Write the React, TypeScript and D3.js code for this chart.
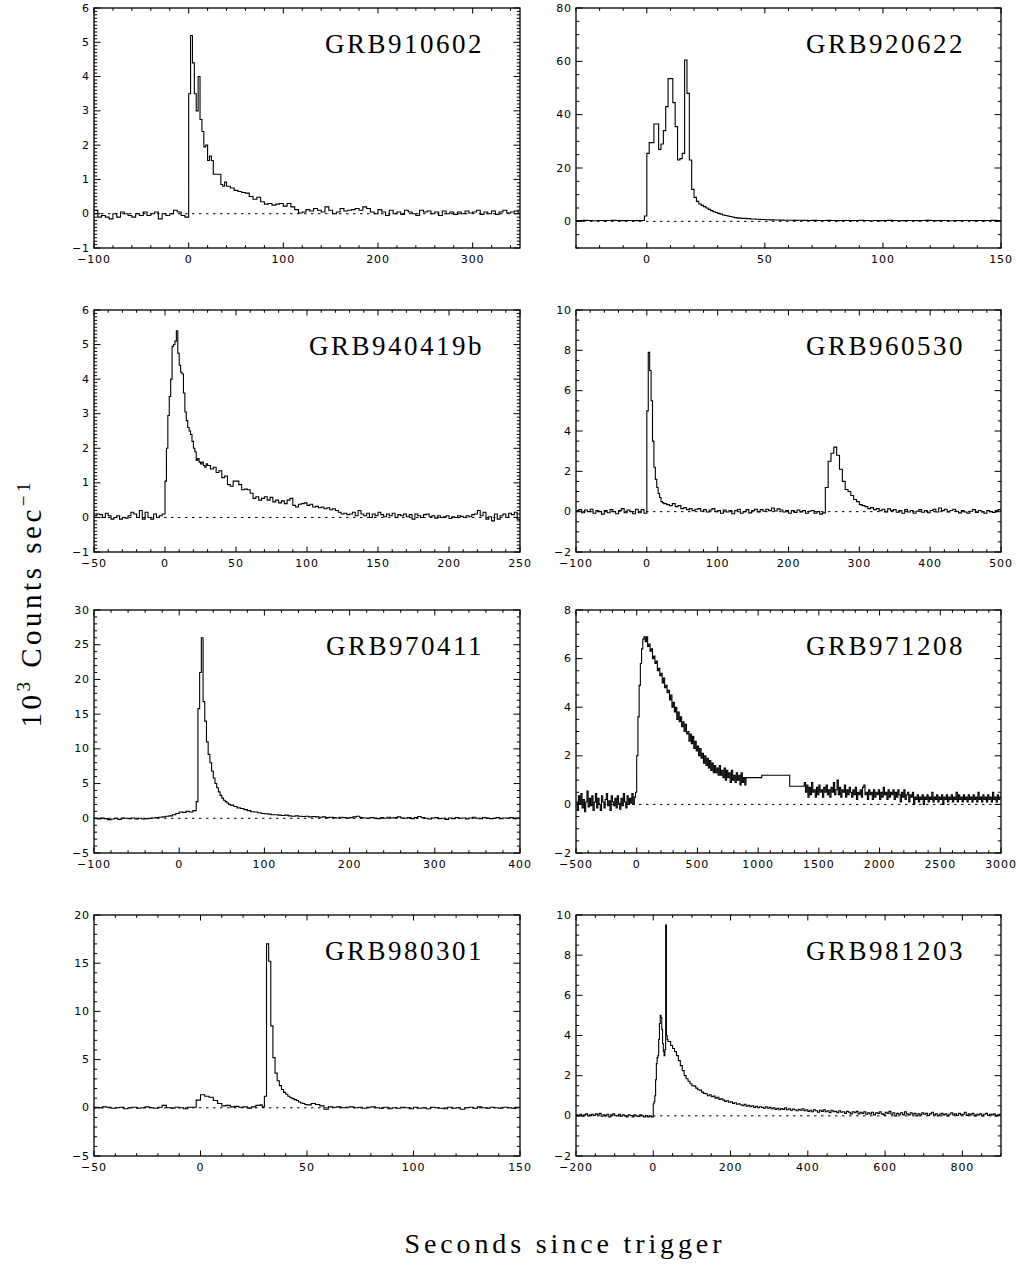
import React from 'react';
import * as d3 from 'd3';

type Seg = { start?: number; width?: number; edges?: number[]; values: number[] };

// ---------------- GRB910602 ----------------
const grb910602Pre = [0.1, -0.1, -0.05, -0.1, -0.15, 0.0, -0.1, 0.05, 0.0, -0.05, -0.1, 0.0, -0.05, 0.05, -0.05, 0.0, 0.05, -0.15, 0.0, -0.05, 0.0, 0.1, 0.05, -0.05, -0.1];
const grb910602Burst = [3.5, 5.2, 4.4, 3.5, 3.0, 4.0, 2.75, 2.4, 1.95, 2.0, 1.55, 1.68, 1.55, 1.15, 1.15, 1.15, 1.15, 0.85, 0.8, 0.92];
const grb910602Tail = [
  0.8, 0.75, 0.68, 0.65, 0.62, 0.6, 0.5, 0.42, 0.48, 0.35,
  0.28, 0.3, 0.25, 0.28, 0.3, 0.22, 0.3, 0.2, 0.12, 0.02,
  0.05, 0.12, 0.08, 0.15, 0.1, 0.05, 0.2, 0.1, 0.0, 0.05,
  0.15, 0.08, 0.1, 0.12, 0.15, 0.1, 0.2, 0.15, 0.05, 0.0,
  0.12, 0.05, -0.05, 0.1, 0.0, 0.05, -0.02, 0.1, 0.05, 0.0,
  -0.05, 0.1, 0.05, 0.08, 0.0, 0.05, -0.05, 0.08, 0.0, 0.05,
  -0.02, 0.05, 0.0, 0.08, 0.02, 0.05, 0.1, -0.02, 0.05, 0.0,
  0.08, -0.02, 0.05, 0.1, 0.02, 0.05, 0.08, 0.0];

// ---------------- GRB920622 ----------------
const grb920622Pre = [0.3, 0.25, 0.35, 0.3, 0.2, 0.3, 0.25, 0.3, 0.35, 0.3, 0.25, 0.3, 0.3, 0.25, 0.3];
const grb920622Burst = [2.0, 25.5, 29.5, 29.5, 36.5, 36.5, 27, 29, 34, 43, 53.5, 53.5, 44.5, 35.5, 23, 23.5, 25.5, 60.5, 48, 23, 12, 9, 7.5, 6.5, 6.0, 5.5, 5.0, 4.5, 4.0, 3.6, 3.3, 3.0, 2.7, 2.4, 2.2, 2.0, 1.8, 1.6, 1.4, 1.3, 1.2];
const grb920622Tail = [
  1.1, 1.0, 0.9, 0.8, 0.7, 0.6, 0.55, 0.5, 0.45, 0.4,
  0.4, 0.35, 0.4, 0.35, 0.3, 0.35, 0.3, 0.3, 0.35, 0.3,
  0.25, 0.3, 0.3, 0.25, 0.3, 0.35, 0.3, 0.2, 0.3, 0.25,
  0.3, 0.35, 0.3, 0.2, 0.25, 0.3, 0.3, 0.25, 0.3, 0.35,
  0.3, 0.25, 0.3, 0.3, 0.2, 0.3, 0.25, 0.3, 0.3, 0.25,
  0.3, 0.25, 0.3, 0.35, 0.3];

// ---------------- GRB940419b ----------------
const grb940419bPre = [0.05, 0.1, 0.08, 0.0, 0.12, 0.05, -0.05, 0.0, 0.05, -0.05, 0.0, -0.02, 0.05, 0.15, 0.1, 0.0, 0.2, -0.05, 0.15, 0.0, -0.05, 0.1, 0.0, 0.05, 0.1];
const grb940419bBurst = [1.05, 2.0, 2.95, 3.5, 4.0, 4.95, 5.0, 5.1, 5.4, 4.75, 4.4, 4.2, 4.15, 3.6, 3.05, 2.8, 2.6, 2.5, 2.4, 2.2, 2.0, 1.9, 1.65, 1.7, 1.6, 1.55, 1.6, 1.5, 1.45, 1.55];
const grb940419bTail = [
  1.5, 1.4, 1.45, 1.3, 1.35, 1.15, 1.2, 0.95, 0.9, 1.05,
  1.05, 0.95, 0.8, 0.82, 0.8, 0.7, 0.55, 0.6, 0.5, 0.55,
  0.6, 0.5, 0.58, 0.45, 0.5, 0.42, 0.48, 0.4, 0.5, 0.55,
  0.35, 0.3, 0.38, 0.4, 0.42, 0.35, 0.38, 0.3, 0.32, 0.28,
  0.3, 0.25, 0.28, 0.22, 0.25, 0.2, 0.15, 0.1, 0.12, 0.08,
  0.1, 0.15, 0.05, 0.2, 0.1, 0.05, 0.12, 0.0, 0.1, 0.05,
  0.15, 0.08, 0.02, 0.1, 0.05, 0.12, 0.0, 0.08, 0.05, 0.1,
  0.02, 0.08, -0.05, 0.1, 0.05, 0.0, 0.08, 0.1, 0.02, 0.05,
  -0.02, 0.05, 0.0, 0.02, 0.05, -0.03, 0.02, 0.0, 0.05, 0.03,
  0.0, 0.05, 0.02, 0.08, 0.1, 0.2, 0.05, 0.15, -0.05, 0.02,
  -0.1, 0.1, -0.05, 0.05, 0.1, 0.0, 0.12, 0.08, 0.15, -0.05];

// ---------------- GRB960530 ----------------
const grb960530Pre = [0.05, 0.1, -0.05, 0.08, 0.0, 0.12, -0.08, 0.05, 0.0, -0.12, 0.05, -0.05, 0.1, 0.0, -0.1, 0.05, 0.15, -0.05, 0.08, 0.0, -0.1, 0.12, -0.05, 0.1, -0.08];
const grb960530Spike = [5.0, 7.9, 7.0, 5.5, 3.5, 2.2, 1.6, 1.2, 0.9, 0.7, 0.5, 0.45];
const grb960530Tail = [
  0.4, 0.35, 0.3, 0.4, 0.25, 0.3, 0.15, 0.2, 0.1, 0.15,
  0.05, 0.12, 0.15, 0.02, 0.1, -0.02, 0.08, 0.15, 0.0, 0.05,
  -0.08, 0.08, -0.02, 0.05, -0.1, 0.05, 0.12, -0.08, 0.0, 0.1,
  -0.06, 0.05, 0.12, -0.02, 0.1, 0.02, 0.12, 0.05, 0.18, 0.03,
  0.14, 0.08, -0.02, 0.06, -0.08, 0.05, -0.04, 0.08, -0.02, 0.05,
  -0.08, 0.02, 0.06, -0.08, 0.0, -0.12, -0.06,
  1.2, 2.5, 2.9, 3.2, 2.8, 2.1, 1.5, 1.1, 1.0, 0.8,
  0.6, 0.5, 0.35, 0.3, 0.25, 0.15, 0.2, 0.1, 0.15, 0.05,
  0.12, -0.02, 0.14, 0.05, 0.1, -0.03, 0.06, -0.08, 0.1, -0.02,
  0.06, -0.08, 0.02, 0.1, -0.03, 0.05, -0.05, 0.06, 0.12, -0.02,
  0.18, 0.05, 0.12, -0.02, 0.06, 0.12, 0.02, -0.06, 0.05, -0.02,
  -0.08, 0.02, 0.1, -0.04, 0.06, -0.02, -0.08, 0.05, 0.0, -0.04,
  0.06, 0.1];

// ---------------- GRB970411 ----------------
const grb970411Pre = [0.0, -0.1, 0.05, -0.05, -0.2, -0.1, 0.0, -0.15, 0.05, 0.0, -0.05, 0.05, -0.1, 0.0, -0.1, -0.05, 0.0, 0.05, 0.1, 0.15, 0.2, 0.3, 0.35, 0.5, 0.7, 0.9, 0.85, 1.0, 0.9, 1.1];
const grb970411Burst = [2.4, 15.8, 21.0, 26.0, 16.8, 14.0, 11.0, 9.2, 8.0, 6.8, 5.8, 5.0, 4.4, 3.8, 3.3, 2.9, 2.6, 2.4, 2.2, 2.0];
const grb970411Tail = [
  1.9, 1.7, 1.5, 1.4, 1.25, 1.1, 0.95, 0.9, 0.8, 0.7,
  0.65, 0.6, 0.5, 0.5, 0.45, 0.4, 0.45, 0.35, 0.3, 0.35,
  0.3, 0.25, 0.3, 0.2, 0.25, 0.2, 0.15, 0.2, 0.1, 0.15,
  0.1, 0.05, 0.15, 0.1, 0.05, 0.1, 0.2, 0.3, 0.1, 0.05,
  0.0, 0.1, 0.05, -0.05, 0.1, 0.0, 0.15, 0.05, 0.1, 0.2,
  0.05, 0.0, 0.1, -0.05, 0.1, 0.25, 0.1, 0.0, -0.1, 0.05,
  0.1, -0.05, 0.0, -0.15, 0.05, -0.05, 0.1, 0.0, 0.05, -0.1,
  0.05, 0.15, 0.0, -0.05, 0.1, 0.05, -0.05, 0.0, 0.1, -0.05,
  0.05, 0.0, 0.1, -0.05, 0.05];

// ---------------- GRB971208 ----------------
const grb971208Pre = [
  0.1, -0.25, 0.35, 0.0, 0.45, -0.15, 0.2, -0.3, 0.1, 0.55,
  -0.1, 0.25, -0.05, 0.35, -0.25, 0.1, 0.45, -0.15, 0.25, 0.0,
  -0.25, 0.35, 0.1, -0.15, 0.2, 0.45, -0.05, 0.15, -0.25, 0.35,
  0.1, -0.05, 0.25, -0.15, 0.35, 0.05, -0.2, 0.25, -0.05, 0.45,
  0.1, -0.15, 0.35, 0.0, 0.25, 0.05, 0.45, 0.0, 0.3, 0.5];
const grb971208Decay = [
  2.0, 3.6, 4.9, 5.8, 6.4, 6.8, 6.9, 6.7, 6.9, 6.5,
  6.6, 6.3, 6.4, 6.0, 6.1, 5.8, 5.9, 5.5, 5.6, 5.3,
  5.4, 5.0, 5.2, 4.8, 4.9, 4.6, 4.7, 4.3, 4.5, 4.0,
  4.2, 3.8, 4.0, 3.5, 3.8, 3.4, 3.6, 3.2, 3.4, 3.0,
  3.3, 2.9, 3.0, 2.6, 2.9, 2.5, 2.8, 2.3, 2.6, 2.2,
  2.4, 2.0, 2.3, 1.9, 2.1, 1.7, 2.0, 1.6, 1.9, 1.5,
  1.8, 1.4, 1.7, 1.3, 1.6, 1.3, 1.5, 1.2, 1.6, 1.2,
  1.4, 1.1, 1.5, 1.0, 1.4, 1.1, 1.3, 0.9, 1.4, 1.0,
  1.2, 0.9, 1.3, 1.0, 1.2, 0.8, 1.3, 0.9, 1.1, 0.8];
const grb971208GapEdges = [900, 1030, 1260, 1380];
const grb971208Gap = [1.1, 1.2, 0.75];
const grb971208Post = [
  0.9, 0.5, 0.8, 0.3, 0.7, 0.4, 0.9, 0.5, 0.6, 0.3,
  0.7, 0.4, 0.8, 0.5, 0.6, 0.3, 0.7, 0.5, 0.8, 0.4,
  0.6, 0.3, 0.7, 0.5, 0.9, 0.4, 0.6, 1.0, 0.4, 0.7,
  0.3, 0.6, 0.5, 0.8, 0.3, 0.6, 0.4, 0.7, 0.5, 0.3,
  0.6, 0.4, 0.7, 0.2, 0.5, 0.4, 0.6, 0.3, 0.7, 0.8,
  0.4, 0.5, 0.2, 0.6, 0.4, 0.5, 0.2, 0.6, 0.3, 0.5,
  0.4, 0.6, 0.2, 0.5, 0.3, 0.7, 0.4, 0.5, 0.2, 0.6,
  0.3, 0.5, 0.4, 0.6, 0.2, 0.5, 0.3, 0.6, 0.4, 0.1,
  0.5, 0.3, 0.6, 0.2, 0.4, 0.5, 0.1, 0.4, 0.3, 0.5,
  0.0, 0.3, 0.2, 0.4, 0.1, 0.3, 0.2, 0.4, 0.0, 0.3,
  0.2, 0.4, 0.1, 0.3, 0.2, 0.5, 0.1, 0.3, 0.2, 0.4,
  0.1, 0.3, 0.2, 0.4, 0.0, 0.3, 0.2, 0.4, 0.1, 0.3,
  0.2, 0.4, 0.1, 0.3, 0.2, 0.5, 0.1, 0.4, 0.2, 0.3,
  0.1, 0.4, 0.2, 0.3, 0.1, 0.4, 0.2, 0.3, 0.1, 0.4,
  0.2, 0.3, 0.1, 0.5, 0.2, 0.3, 0.1, 0.4, 0.2, 0.3,
  0.1, 0.4, 0.2, 0.3, 0.1, 0.5, 0.2, 0.3, 0.1, 0.4,
  0.2, 0.3];

// ---------------- GRB980301 ----------------
const grb980301Pre = [0.05, 0.0, 0.1, 0.05, -0.05, 0.0, 0.05, -0.1, 0.0, 0.05, -0.05, 0.0, 0.1, 0.0, -0.05, 0.05, 0.25, 0.0, -0.05, 0.05, 0.0, -0.1, 0.05];
const grb980301Bump = [0.05, 0.8, 1.35, 1.2, 1.1, 0.75, 0.45, 0.2, 0.25, 0.1, 0.15, 0.05, 0.1, -0.05, 0.1, 0.25];
const grb980301Burst = [0.3, 0.1, 1.2, 17.0, 15.2, 8.5, 5.2, 3.6, 2.8, 2.3, 1.9, 1.6, 1.4, 1.2, 1.05, 0.95, 0.85, 0.75, 0.6, 0.5, 0.45, 0.35];
const grb980301Tail = [
  0.3, 0.45, 0.35, 0.2, -0.15, 0.1, 0.05, 0.1, 0.0, 0.05,
  0.1, 0.0, 0.05, -0.05, 0.05, 0.1, 0.0, -0.05, 0.05, -0.1,
  0.0, -0.05, 0.05, 0.0, -0.1, 0.05, -0.05, 0.0, -0.1, 0.05,
  0.0, -0.05, -0.1, 0.05, -0.05, 0.0, -0.15, 0.0, 0.05, -0.05,
  0.1, 0.0, -0.05, 0.05, 0.0, -0.05, 0.05, 0.0, -0.05, 0.05];

// ---------------- GRB981203 ----------------
const grb981203Pre = [
  0.05, 0.0, 0.08, -0.02, 0.05, 0.1, 0.0, 0.05, 0.08, 0.02,
  0.1, 0.05, 0.12, -0.02, 0.05, 0.0, 0.08, -0.05, 0.05, 0.1,
  0.02, 0.0, 0.08, -0.02, 0.05, 0.0, -0.05, 0.05, 0.02, -0.05,
  0.05, 0.0, -0.03, 0.05, 0.0, -0.05, 0.02, -0.05, 0.0, -0.05];
const grb981203Burst = [0.6, 0.7, 1.0, 1.8, 2.6, 2.9, 3.0, 3.8, 4.6, 5.0, 4.9, 4.3, 3.6, 3.2, 3.0, 3.3, 9.5, 4.0, 3.8, 3.7];
const grb981203Tail = [
  3.7, 3.5, 3.35, 3.2, 3.0, 2.75, 2.5, 2.25, 2.0, 1.85,
  1.72, 1.6, 1.5, 1.48, 1.38, 1.3, 1.28, 1.18, 1.12, 1.1,
  1.0, 1.05, 0.95, 0.98, 0.88, 0.92, 0.82, 0.85, 0.78, 0.72,
  0.75, 0.68, 0.7, 0.62, 0.65, 0.58, 0.6, 0.55, 0.5, 0.58,
  0.48, 0.52, 0.45, 0.5, 0.42, 0.48, 0.4, 0.45, 0.42, 0.38,
  0.45, 0.38, 0.42, 0.35, 0.4, 0.32, 0.38, 0.3, 0.36, 0.32,
  0.4, 0.3, 0.35, 0.28, 0.34, 0.3, 0.25, 0.32, 0.28, 0.35,
  0.25, 0.3, 0.22, 0.28, 0.2, 0.3, 0.25, 0.18, 0.28, 0.22,
  0.3, 0.2, 0.25, 0.15, 0.28, 0.2, 0.22, 0.15, 0.25, 0.18,
  0.2, 0.12, 0.22, 0.18, 0.1, 0.2, 0.15, 0.22, 0.1, 0.18,
  0.12, 0.2, 0.08, 0.15, 0.1, 0.18, 0.05, 0.15, 0.12, 0.2,
  0.1, 0.05, 0.18, 0.12, 0.22, 0.08, 0.15, 0.0, 0.12, 0.08,
  0.15, 0.05, 0.2, 0.1, 0.05, 0.15, 0.08, 0.12, 0.0, 0.1,
  0.05, 0.15, 0.08, 0.12, 0.02, 0.1, 0.18, 0.05, 0.1, 0.0,
  0.08, 0.12, 0.05, 0.1, 0.0, 0.08, 0.15, 0.05, 0.1, 0.02,
  0.12, 0.05, 0.08, 0.18, 0.02, 0.1, 0.05, 0.12, 0.0, 0.08,
  0.05, 0.1, 0.0, 0.08, 0.12, 0.02, 0.08, 0.05, 0.1, 0.0,
  0.05, 0.08];

// ---------------- axis ticks ----------------
const xTicks910602 = [-100, 0, 100, 200, 300];
const yTicks910602 = [-1, 0, 1, 2, 3, 4, 5, 6];
const xTicks920622 = [0, 50, 100, 150];
const yTicks920622 = [0, 20, 40, 60, 80];
const xTicks940419b = [-50, 0, 50, 100, 150, 200, 250];
const yTicks940419b = [-1, 0, 1, 2, 3, 4, 5, 6];
const xTicks960530 = [-100, 0, 100, 200, 300, 400, 500];
const yTicks960530 = [-2, 0, 2, 4, 6, 8, 10];
const xTicks970411 = [-100, 0, 100, 200, 300, 400];
const yTicks970411 = [-5, 0, 5, 10, 15, 20, 25, 30];
const xTicks971208 = [-500, 0, 500, 1000, 1500, 2000, 2500, 3000];
const yTicks971208 = [-2, 0, 2, 4, 6, 8];
const xTicks980301 = [-50, 0, 50, 100, 150];
const yTicks980301 = [-5, 0, 5, 10, 15, 20];
const xTicks981203 = [-200, 0, 200, 400, 600, 800];
const yTicks981203 = [-2, 0, 2, 4, 6, 8, 10];

const titles = ['GRB910602', 'GRB920622', 'GRB940419b', 'GRB960530', 'GRB970411', 'GRB971208', 'GRB980301', 'GRB981203'];

interface PanelCfg {
  title: string;
  xDomain: [number, number];
  yDomain: [number, number];
  xTicks: number[];
  xMinor: number;
  yTicks: number[];
  yMinor: number;
  segs: Seg[];
}

const panels: PanelCfg[] = [
  { title: titles[0], xDomain: [-100, 350], yDomain: [-1, 6], xTicks: xTicks910602, xMinor: 20, yTicks: yTicks910602, yMinor: 0.1,
    segs: [{ start: -100, width: 4, values: grb910602Pre }, { start: 0, width: 2, values: grb910602Burst }, { start: 40, width: 4, values: grb910602Tail }] },
  { title: titles[1], xDomain: [-30, 150], yDomain: [-10, 80], xTicks: xTicks920622, xMinor: 10, yTicks: yTicks920622, yMinor: 5,
    segs: [{ start: -31, width: 2, values: grb920622Pre }, { start: -1, width: 1, values: grb920622Burst }, { start: 40, width: 2, values: grb920622Tail }] },
  { title: titles[2], xDomain: [-50, 250], yDomain: [-1, 6], xTicks: xTicks940419b, xMinor: 10, yTicks: yTicks940419b, yMinor: 0.1,
    segs: [{ start: -50, width: 2, values: grb940419bPre }, { start: 0, width: 1, values: grb940419bBurst }, { start: 30, width: 2, values: grb940419bTail }] },
  { title: titles[3], xDomain: [-100, 500], yDomain: [-2, 10], xTicks: xTicks960530, xMinor: 20, yTicks: yTicks960530, yMinor: 0.5,
    segs: [{ start: -100, width: 4, values: grb960530Pre }, { start: 0, width: 2, values: grb960530Spike }, { start: 24, width: 4, values: grb960530Tail }] },
  { title: titles[4], xDomain: [-100, 400], yDomain: [-5, 30], xTicks: xTicks970411, xMinor: 20, yTicks: yTicks970411, yMinor: 1,
    segs: [{ start: -100, width: 4, values: grb970411Pre }, { start: 20, width: 2, values: grb970411Burst }, { start: 60, width: 4, values: grb970411Tail }] },
  { title: titles[5], xDomain: [-500, 3000], yDomain: [-2, 8], xTicks: xTicks971208, xMinor: 100, yTicks: yTicks971208, yMinor: 0.5,
    segs: [{ start: -500, width: 10, values: grb971208Pre }, { start: 0, width: 10, values: grb971208Decay }, { edges: grb971208GapEdges, values: grb971208Gap }, { start: 1380, width: 10, values: grb971208Post }] },
  { title: titles[6], xDomain: [-50, 150], yDomain: [-5, 20], xTicks: xTicks980301, xMinor: 10, yTicks: yTicks980301, yMinor: 1,
    segs: [{ start: -50, width: 2, values: grb980301Pre }, { start: -4, width: 2, values: grb980301Bump }, { start: 28, width: 1, values: grb980301Burst }, { start: 50, width: 2, values: grb980301Tail }] },
  { title: titles[7], xDomain: [-200, 900], yDomain: [-2, 10], xTicks: xTicks981203, xMinor: 50, yTicks: yTicks981203, yMinor: 0.5,
    segs: [{ start: -200, width: 5, values: grb981203Pre }, { start: 0, width: 2, values: grb981203Burst }, { start: 40, width: 5, values: grb981203Tail }] },
];

const COLS: [number, number][] = [[94, 520], [576, 1001]];
const ROWS: [number, number][] = [[8, 248], [310, 552], [610, 853], [915, 1156]];

const fmt = d3.format('d');

function minorTicks(domain: [number, number], step: number, majors: number[]): number[] {
  const out: number[] = [];
  const i0 = Math.ceil(domain[0] / step - 1e-9);
  const i1 = Math.floor(domain[1] / step + 1e-9);
  for (let i = i0; i <= i1; i++) {
    const v = i * step;
    if (!majors.some((m) => Math.abs(m - v) < step * 1e-3)) out.push(v);
  }
  return out;
}

function Panel({ cfg, idx, x0, x1, y0, y1 }: { cfg: PanelCfg; idx: number; x0: number; x1: number; y0: number; y1: number }) {
  const xs = d3.scaleLinear().domain(cfg.xDomain).range([x0, x1]);
  const ys = d3.scaleLinear().domain(cfg.yDomain).range([y1, y0]);
  const pts: [number, number][] = [];
  cfg.segs.forEach((s) => {
    s.values.forEach((v, i) => {
      const t = s.edges ? s.edges[i] : (s.start as number) + i * (s.width as number);
      pts.push([t, v]);
    });
  });
  const last = cfg.segs[cfg.segs.length - 1];
  const tEnd = last.edges ? last.edges[last.edges.length - 1] : (last.start as number) + last.values.length * (last.width as number);
  pts.push([tEnd, last.values[last.values.length - 1]]);
  const line = d3.line<[number, number]>().x((d) => xs(d[0])).y((d) => ys(d[1])).curve(d3.curveStepAfter);
  const xMaj = cfg.xTicks.filter((t) => t >= cfg.xDomain[0] && t <= cfg.xDomain[1]);
  const xMin = minorTicks(cfg.xDomain, cfg.xMinor, xMaj);
  const yMaj = cfg.yTicks;
  const yMin = minorTicks(cfg.yDomain, cfg.yMinor, yMaj);
  const XMAJ = 5.5, XMIN = 2.8, YMAJ = 6.5, YMIN = 3.2;
  const clipId = `clip-${idx}`;
  const tickStyle = { stroke: '#000', strokeWidth: 1 };
  const labelFont = { fontFamily: 'DejaVu Sans', fontSize: 11, letterSpacing: 0.9 };
  return (
    <g>
      <defs>
        <clipPath id={clipId}>
          <rect x={x0} y={y0} width={x1 - x0} height={y1 - y0} />
        </clipPath>
      </defs>
      <line x1={x0} x2={x1} y1={ys(0)} y2={ys(0)} stroke="#000" strokeWidth={1} strokeDasharray="2.5,4.5" />
      <path d={line(pts) || ''} fill="none" stroke="#000" strokeWidth={1.1} clipPath={`url(#${clipId})`} />
      {xMaj.map((t) => (
        <g key={`xM${t}`}>
          <line x1={xs(t)} x2={xs(t)} y1={y1} y2={y1 - XMAJ} {...tickStyle} />
          <line x1={xs(t)} x2={xs(t)} y1={y0} y2={y0 + XMAJ} {...tickStyle} />
          <text x={xs(t)} y={y1 + 15} textAnchor="middle" {...labelFont}>{fmt(t)}</text>
        </g>
      ))}
      {xMin.map((t) => (
        <g key={`xm${t}`}>
          <line x1={xs(t)} x2={xs(t)} y1={y1} y2={y1 - XMIN} {...tickStyle} />
          <line x1={xs(t)} x2={xs(t)} y1={y0} y2={y0 + XMIN} {...tickStyle} />
        </g>
      ))}
      {yMaj.map((v) => (
        <g key={`yM${v}`}>
          <line x1={x0} x2={x0 + YMAJ} y1={ys(v)} y2={ys(v)} {...tickStyle} />
          <line x1={x1} x2={x1 - YMAJ} y1={ys(v)} y2={ys(v)} {...tickStyle} />
          <text x={x0 - 4} y={ys(v)} dy="0.33em" textAnchor="end" {...labelFont}>{fmt(v)}</text>
        </g>
      ))}
      {yMin.map((v) => (
        <g key={`ym${v}`}>
          <line x1={x0} x2={x0 + YMIN} y1={ys(v)} y2={ys(v)} {...tickStyle} />
          <line x1={x1} x2={x1 - YMIN} y1={ys(v)} y2={ys(v)} {...tickStyle} />
        </g>
      ))}
      <rect x={x0} y={y0} width={x1 - x0} height={y1 - y0} fill="none" stroke="#000" strokeWidth={1.3} />
      <text x={x1 - 36} y={y0 + 45} textAnchor="end" fontFamily="Liberation Serif" fontSize={27} letterSpacing={2.5}>{cfg.title}</text>
    </g>
  );
}

export default function App() {
  return (
    <svg width={1021} height={1271} style={{ position: 'absolute', left: 0, top: 0, background: '#fff' }}>
      <rect x={0} y={0} width={1021} height={1271} fill="#fff" />
      {panels.map((p, i) => {
        const c = COLS[i % 2];
        const r = ROWS[Math.floor(i / 2)];
        return <Panel key={p.title} cfg={p} idx={i} x0={c[0]} x1={c[1]} y0={r[0]} y1={r[1]} />;
      })}
      <text x={563} y={1253} textAnchor="middle" fontFamily="Liberation Serif" fontSize={28} textLength={317} lengthAdjust="spacing">Seconds since trigger</text>
      <g transform="translate(41,605) rotate(-90)">
        <text x={0} y={0} textAnchor="middle" fontFamily="Liberation Serif" fontSize={29} textLength={245} lengthAdjust="spacing">
          10<tspan dy={-11} fontSize={19}>3</tspan><tspan dy={11}> Counts sec</tspan><tspan dy={-11} fontSize={19}>−1</tspan>
        </text>
      </g>
    </svg>
  );
}
